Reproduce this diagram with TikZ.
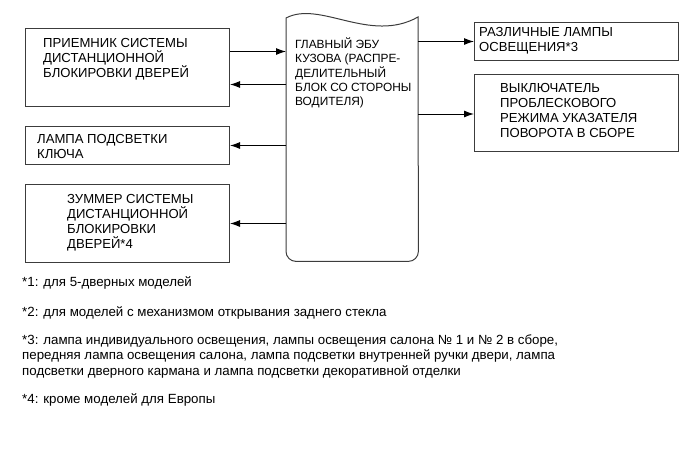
\documentclass[tikz,border=0pt]{standalone}
\usepackage{fontspec}
\setmainfont{Liberation Sans}
\usetikzlibrary{arrows.meta, positioning, calc}
\definecolor{framegray}{RGB}{60,60,60}

\begin{document}
\begin{tikzpicture}[x=1pt, y=-1pt,
    unitbox/.style={draw=framegray, line width=1pt, minimum width=204pt, inner sep=0pt, anchor=north west},
    boxtext/.style={anchor=north west, align=left, inner sep=0pt, font=\fontsize{13.1}{15.2}\selectfont},
    ecutext/.style={anchor=north west, align=left, inner sep=0pt, font=\fontsize{11.9}{14.3}\selectfont},
    sig/.style={draw=black, line width=1pt, -{Latex[length=10pt, width=7pt]}},
    note/.style={anchor=west, align=left, inner sep=0pt, font=\fontsize{13.3}{15.5}\selectfont}]
    \useasboundingbox (0,0) rectangle (690,467);

    % left column
    \node[unitbox, minimum height=78pt] (recv) at (25,28) {};
    \node[unitbox, minimum height=38pt] (keylamp) at (25,126) {};
    \node[unitbox, minimum height=78pt] (buzzer) at (25,184) {};
    \node[boxtext] (recvtext) at ([shift={(18,10)}]recv.north west) {ПРИЕМНИК СИСТЕМЫ\\ДИСТАНЦИОННОЙ\\БЛОКИРОВКИ ДВЕРЕЙ};
    \node[boxtext] (keylamptext) at ([shift={(12,8)}]keylamp.north west) {ЛАМПА ПОДСВЕТКИ\\КЛЮЧА};
    \node[boxtext] (buzzertext) at ([shift={(42,10)}]buzzer.north west) {ЗУММЕР СИСТЕМЫ\\ДИСТАНЦИОННОЙ\\БЛОКИРОВКИ\\ДВЕРЕЙ*4};

    % body ECU
    \node[minimum width=132pt, minimum height=243pt, inner sep=0pt, anchor=north west] (ecu) at (286,18) {};
    \draw[framegray, line width=1pt] (ecu.north west) .. controls (320,0) and (370,44) .. (418,17)
        [rounded corners=10pt] -- (ecu.south east) -- (ecu.south west) [sharp corners] -- cycle;
    \node[ecutext] (ecutext) at (295,37.5) {ГЛАВНЫЙ ЭБУ\\КУЗОВА (РАСПРЕ-\\ДЕЛИТЕЛЬНЫЙ\\БЛОК СО СТОРОНЫ\\ВОДИТЕЛЯ)};

    % right column
    \node[unitbox, minimum height=38pt] (lamps) at (474,22) {};
    \node[unitbox, minimum height=77pt] (hazard) at (474,74) {};
    \node[boxtext] (lampstext) at ([shift={(5,5)}]lamps.north west) {РАЗЛИЧНЫЕ ЛАМПЫ\\ОСВЕЩЕНИЯ*3};
    \node[boxtext] (hazardtext) at ([shift={(26,9)}]hazard.north west) {ВЫКЛЮЧАТЕЛЬ\\ПРОБЛЕСКОВОГО\\РЕЖИМА УКАЗАТЕЛЯ\\ПОВОРОТА В СБОРЕ};

    % connections
    \draw[sig] ([yshift=16pt]recv.east) -- ([yshift=16pt]recv.east -| ecu.west);
    \draw[sig] ([yshift=-17pt]recv.east -| ecu.west) -- ([yshift=-17pt]recv.east);
    \draw[sig] (keylamp.east -| ecu.west) -- (keylamp.east);
    \draw[sig] (buzzer.east -| ecu.west) -- (buzzer.east);
    \draw[sig] (lamps.west -| ecu.east) -- (lamps.west);
    \draw[sig] ([yshift=-1pt]hazard.west -| ecu.east) -- ([yshift=-1pt]hazard.west);

    % notes
    \node[note] (note1) at (22,283) {*1: для 5-дверных моделей};
    \node[note] (note2) at (22,313) {*2: для моделей с механизмом открывания заднего стекла};
    \node[note] (note3) at (22,356) {*3: лампа индивидуального освещения, лампы освещения салона № 1 и № 2 в сборе,\\передняя лампа освещения салона, лампа подсветки внутренней ручки двери, лампа\\подсветки дверного кармана и лампа подсветки декоративной отделки};
    \node[note] (note4) at (22,400) {*4: кроме моделей для Европы};
\end{tikzpicture}
\end{document}
